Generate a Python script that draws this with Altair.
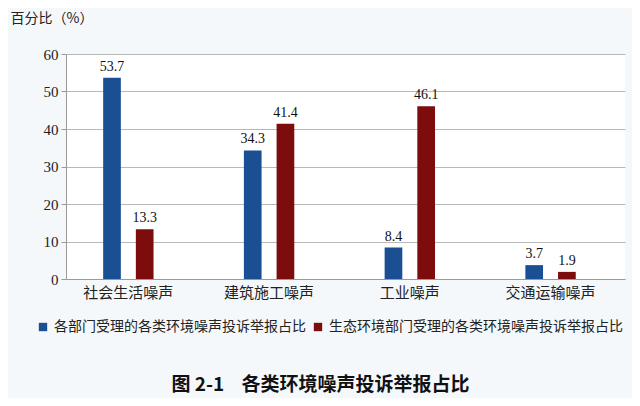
import altair as alt
import pandas as pd

categories = ["社会生活噪声", "建筑施工噪声", "工业噪声", "交通运输噪声"]
series_names = ["各部门受理的各类环境噪声投诉举报占比", "生态环境部门受理的各类环境噪声投诉举报占比"]
values_all_depts = [53.7, 34.3, 8.4, 3.7]
values_eco_dept = [13.3, 41.4, 46.1, 1.9]
colors = ["#1b4f94", "#7d0c0c"]
y_ticks = [0, 10, 20, 30, 40, 50, 60]

rows = []
for i, c in enumerate(categories):
    rows.append({"cat": c, "series": series_names[0], "value": values_all_depts[i]})
    rows.append({"cat": c, "series": series_names[1], "value": values_eco_dept[i]})
df = pd.DataFrame(rows)

cjk = "Noto Sans CJK SC"
serif = "Liberation Serif"

x_enc = alt.X("cat:N", sort=categories, title=None,
              scale=alt.Scale(paddingInner=0.642, paddingOuter=0.307, align=0.43),
              axis=alt.Axis(labelAngle=0, labelFont=cjk, labelFontSize=15, labelColor="#222",
                            labelPadding=6, ticks=False, domainColor="#9a9a9a", domainWidth=1))
xoff = alt.XOffset("series:N", sort=series_names,
                   scale=alt.Scale(paddingInner=0.459, paddingOuter=0))
y_enc = alt.Y("value:Q", title="百分比（%）",
              scale=alt.Scale(domain=[0, 60], nice=False),
              axis=alt.Axis(values=y_ticks, tickCount=7, labelOverlap=False,
                            labelFont=serif, labelFontSize=15, labelColor="#222",
                            tickSize=5, tickColor="#9a9a9a", labelPadding=3,
                            domainColor="#9a9a9a", gridColor="#b8b8b8",
                            titleAngle=0, titleAlign="left", titleBaseline="middle",
                            titleX=-56, titleY=-36, titleFont=cjk, titleFontSize=14,
                            titleFontWeight="normal", titleColor="#222"))

bars = alt.Chart(df).mark_bar().encode(
    x=x_enc,
    xOffset=xoff,
    y=y_enc,
    color=alt.Color("series:N", sort=series_names,
                    scale=alt.Scale(domain=series_names, range=colors),
                    legend=alt.Legend(title=None, orient="none", legendX=-30, legendY=266,
                                      direction="horizontal", symbolType="square",
                                      symbolSize=70, symbolStrokeWidth=0,
                                      labelFont=cjk, labelFontSize=14, labelColor="#222",
                                      labelOffset=4, columnPadding=5, labelLimit=400)),
)

labels = alt.Chart(df).mark_text(baseline="bottom", dy=-4, font=serif, fontSize=14,
                                 color="#111").encode(
    x=x_enc,
    xOffset=xoff,
    y=y_enc,
    text=alt.Text("value:Q", format=".1f"),
)

chart = alt.layer(bars, labels).properties(
    width=559,
    height=225,
    padding={"left": 58, "top": 46, "right": 7, "bottom": 119},
    autosize=alt.AutoSizeParams(type="none"),
    background="#f5f8fb",
    title=alt.TitleParams("图\u00a02-1\u00a0\u00a0\u00a0\u00a0各类环境噪声投诉举报占比", orient="bottom",
                          frame="group", anchor="middle", offset=42, dx=-25, font=cjk,
                          fontSize=19, fontWeight="bold", color="#111"),
).configure_view(fill="white", stroke=None)

chart.save("out.html", embed_options={"renderer": "svg", "actions": False})
